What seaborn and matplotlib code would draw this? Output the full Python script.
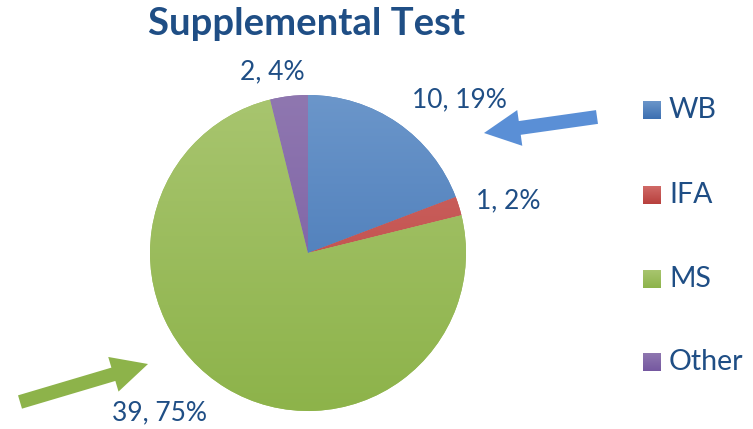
import numpy as np
import matplotlib
matplotlib.use('Agg')
import matplotlib.pyplot as plt
import seaborn as sns
from matplotlib.colors import LinearSegmentedColormap

# Data
categories = ['WB', 'IFA', 'MS', 'Other']
counts = [10, 1, 39, 2]
top_colors = ['#6b96ca', '#d06a67', '#a8c56f', '#8f77b0']
bottom_colors = ['#3c6fb1', '#b8403d', '#8db34a', '#7558a0']
base_colors = ['#4f81bd', '#c0504d', '#9bbb59', '#8064a2']

sns.set_theme(style='white')
plt.rcParams['font.family'] = ['Lato', 'DejaVu Sans']
text_color = '#1f4e85'

fig = plt.figure(figsize=(7.53, 4.29), dpi=100)
ax = fig.add_axes([0, 0, 1, 1])
ax.set_xlim(0, 753)
ax.set_ylim(0, 429)
ax.set_aspect('equal')
ax.axis('off')

cx, cy, r = 308, 429 - 253, 158
palette = sns.color_palette(base_colors)
wedges, _ = ax.pie(counts, colors=palette, startangle=90, counterclock=False,
                   center=(cx, cy), radius=r, frame=True,
                   wedgeprops=dict(linewidth=0))
ax.set_xlim(0, 753)
ax.set_ylim(0, 429)
ax.axis('off')

# vertical gradient fill per slice
grad = np.linspace(0, 1, 256).reshape(-1, 1)
for w, c_top, c_bot in zip(wedges, top_colors, bottom_colors):
    cmap = LinearSegmentedColormap.from_list('g', [c_bot, c_top])
    im = ax.imshow(grad, cmap=cmap, origin='lower', aspect='auto',
                   extent=(cx - r, cx + r, cy - r, cy + r), zorder=2)
    im.set_clip_path(w)

total = sum(counts)
labels = [f'{v}, {round(v / total * 100)}%' for v in counts]
label_pos = [(459, 429 - 100), (508, 429 - 201), (160, 429 - 413), (272, 429 - 72)]
for lab, (x, y) in zip(labels, label_pos):
    ax.text(x, y, lab, ha='center', va='center', fontsize=19, color=text_color, zorder=5)

ax.text(307, 429 - 24, 'Supplemental Test', ha='center', va='center',
        fontsize=27.5, fontweight='bold', color=text_color)

# legend
leg_y = [110, 195, 279, 362]
for cat, c_top, c_bot, y in zip(categories, top_colors, bottom_colors, leg_y):
    cmap = LinearSegmentedColormap.from_list('g', [c_bot, c_top])
    ax.imshow(grad, cmap=cmap, origin='lower', aspect='auto',
              extent=(643, 661, 429 - y - 9, 429 - y + 9), zorder=3)
    ax.text(669, 429 - y, cat, ha='left', va='center', fontsize=20.5, color=text_color)

# arrows
style = 'simple,head_length=2.6,head_width=2.6,tail_width=1.0'
ax.annotate('', xy=(484, 429 - 133), xytext=(597, 429 - 117),
            arrowprops=dict(arrowstyle=style, color='#5a8fd6', lw=0,
                            mutation_scale=10, shrinkA=0, shrinkB=0))
ax.annotate('', xy=(148, 429 - 364), xytext=(20, 429 - 402),
            arrowprops=dict(arrowstyle=style, color='#8db34a', lw=0,
                            mutation_scale=10, shrinkA=0, shrinkB=0))

ax.set_xlim(0, 753)
ax.set_ylim(0, 429)
fig.savefig('out.png', dpi=100)
